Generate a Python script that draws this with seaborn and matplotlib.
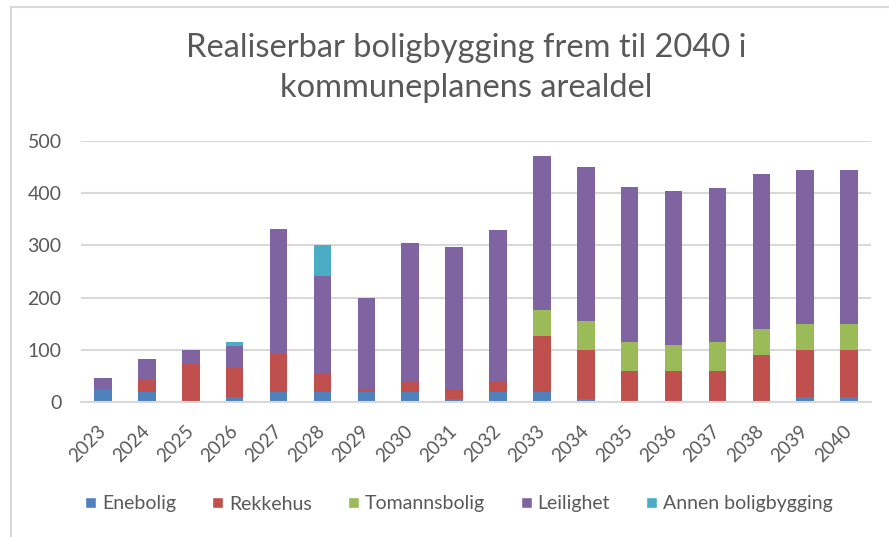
import numpy as np
import pandas as pd
import matplotlib.pyplot as plt
import seaborn as sns
from matplotlib.patches import Patch, Rectangle

years = [str(y) for y in range(2023, 2041)]
enebolig = [25, 20, 0, 10, 20, 20, 20, 20, 5, 20, 20, 5, 0, 0, 0, 0, 10, 10]
rekkehus = [0, 22, 73, 56, 72, 35, 4, 20, 19, 20, 106, 95, 60, 60, 60, 90, 90, 90]
tomannsbolig = [0, 0, 0, 0, 0, 0, 0, 0, 0, 0, 50, 55, 55, 50, 55, 50, 50, 50]
leilighet = [21, 41, 27, 41, 240, 186, 176, 264, 272, 290, 295, 295, 296, 295, 295, 297, 295, 295]
annen = [0, 0, 0, 7, 0, 59, 0, 0, 0, 0, 0, 0, 0, 0, 0, 0, 0, 0]

series = ['Enebolig', 'Rekkehus', 'Tomannsbolig', 'Leilighet', 'Annen boligbygging']
colors = ['#4F81BD', '#C0504D', '#9BBB59', '#8064A2', '#4BACC6']

df = pd.DataFrame({'year': years, 'Enebolig': enebolig, 'Rekkehus': rekkehus,
                   'Tomannsbolig': tomannsbolig, 'Leilighet': leilighet,
                   'Annen boligbygging': annen})
# cumulative sums for stacking
cum = df[series].cumsum(axis=1)

sns.set_style("white")
plt.rcParams['font.family'] = ['Lato', 'DejaVu Sans']
grey = '#595959'

fig = plt.figure(figsize=(8.89, 5.37), dpi=100)
ax = fig.add_axes([81/889, 1 - 402/537, 790/889, 261/537])

# draw from top of stack down so each layer covers the one above it
for name, col in reversed(list(zip(series, colors))):
    sns.barplot(x=df['year'], y=cum[name], color=col, width=0.4, saturation=1,
                ax=ax, linewidth=0)

ax.set_ylim(0, 500)
ax.set_xlim(-0.5, 17.5)
ax.set_yticks([0, 100, 200, 300, 400, 500])
ax.yaxis.grid(True, color='#D9D9D9', linewidth=1.5)
ax.set_axisbelow(True)
for s in ['top', 'right', 'left']:
    ax.spines[s].set_visible(False)
ax.spines['bottom'].set_color('#D9D9D9')
ax.spines['bottom'].set_linewidth(1.5)
ax.set_xlabel('')
ax.set_ylabel('')
ax.tick_params(axis='y', length=0, pad=14, labelsize=14, labelcolor=grey)
ax.tick_params(axis='x', length=0, pad=19, labelsize=13.5, labelcolor=grey)
plt.setp(ax.get_xticklabels(), rotation=45, ha='right', va='center', rotation_mode='anchor')

fig.text(466/889, 1 - 33/537, 'Realiserbar boligbygging frem til 2040 i\nkommuneplanens arealdel',
         ha='center', va='top', fontsize=23.5, color=grey, linespacing=1.4)

handles = [Patch(facecolor=c, label=n) for n, c in zip(series, colors)]
fig.legend(handles=handles, loc='center', ncol=5, frameon=False,
           bbox_to_anchor=(459/889, 1 - 504/537), fontsize=14, labelcolor=grey,
           handlelength=0.55, handleheight=0.55, handletextpad=0.3, columnspacing=1.87)

fig.patches.append(Rectangle((11/889, -0.1), 1.2, 1 - 7/537 + 0.1, transform=fig.transFigure,
                             fill=False, edgecolor='#D9D9D9', linewidth=1.5))

plt.savefig('out.png', dpi=100)
